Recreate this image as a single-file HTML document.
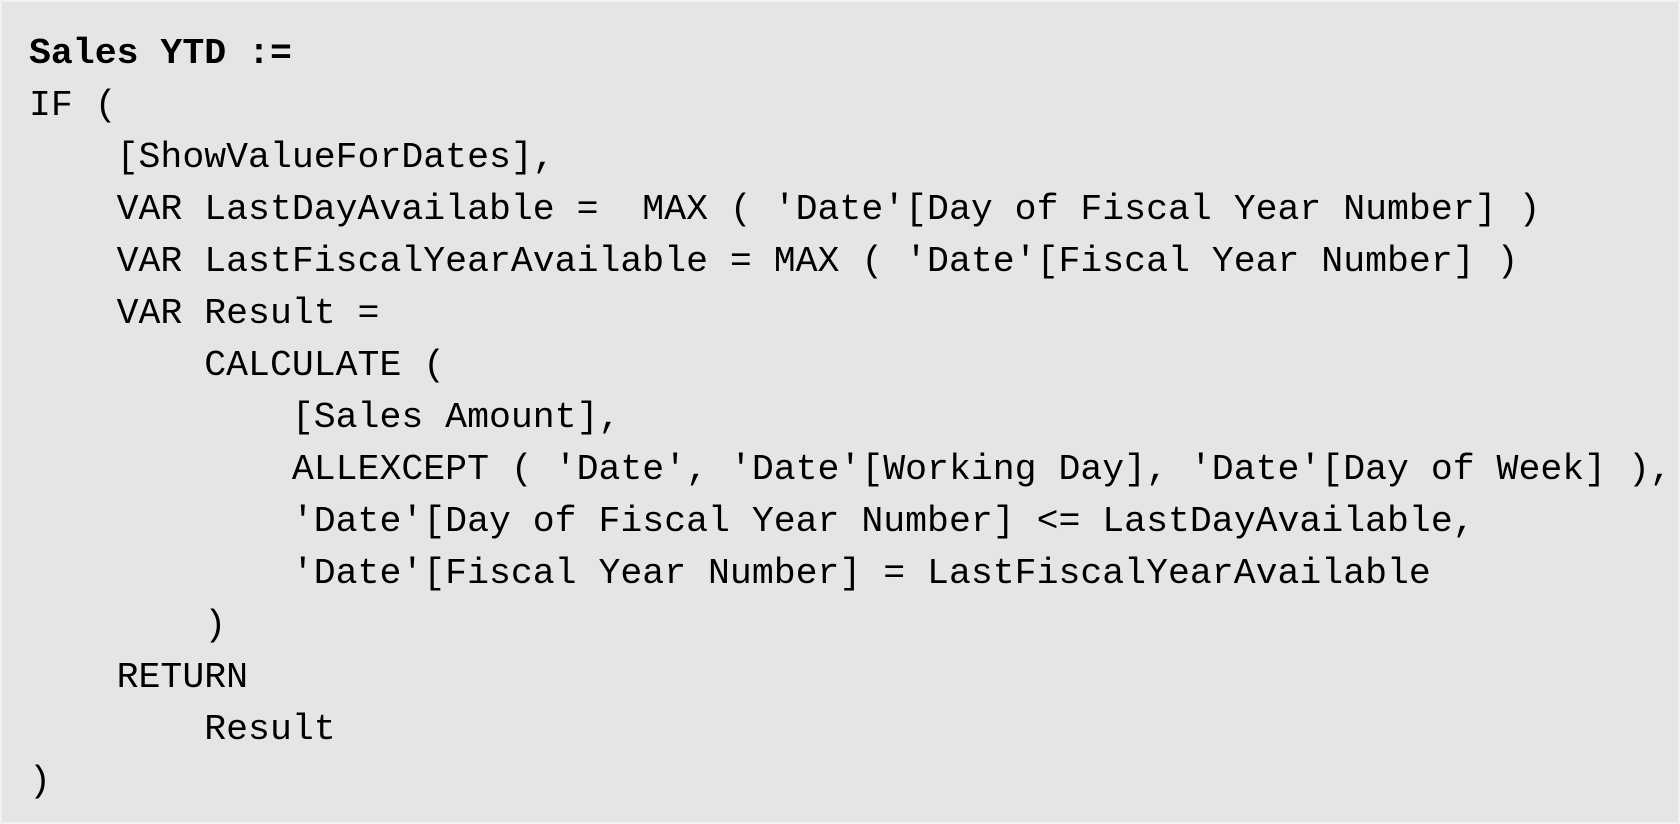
<!DOCTYPE html>
<html><head><meta charset="utf-8"><style>
html,body{margin:0;padding:0;}
body{width:1680px;height:824px;background:#f2f2f2;position:relative;overflow:hidden;}
#box{position:absolute;left:2px;top:2px;width:1676px;height:820px;background:#e5e5e5;}
pre{position:absolute;left:27px;top:26px;margin:0;font-family:"Liberation Mono","DejaVu Sans Mono",monospace;font-size:36.5px;line-height:52px;color:#000;white-space:pre;}
b{font-weight:bold;}
</style></head><body>
<div id="box">
<pre><b>Sales YTD :=</b>
IF (
    [ShowValueForDates],
    VAR LastDayAvailable =  MAX ( 'Date'[Day of Fiscal Year Number] )
    VAR LastFiscalYearAvailable = MAX ( 'Date'[Fiscal Year Number] )
    VAR Result =
        CALCULATE (
            [Sales Amount],
            ALLEXCEPT ( 'Date', 'Date'[Working Day], 'Date'[Day of Week] ),
            'Date'[Day of Fiscal Year Number] &lt;= LastDayAvailable,
            'Date'[Fiscal Year Number] = LastFiscalYearAvailable
        )
    RETURN
        Result
)</pre>
</div>
</body></html>
